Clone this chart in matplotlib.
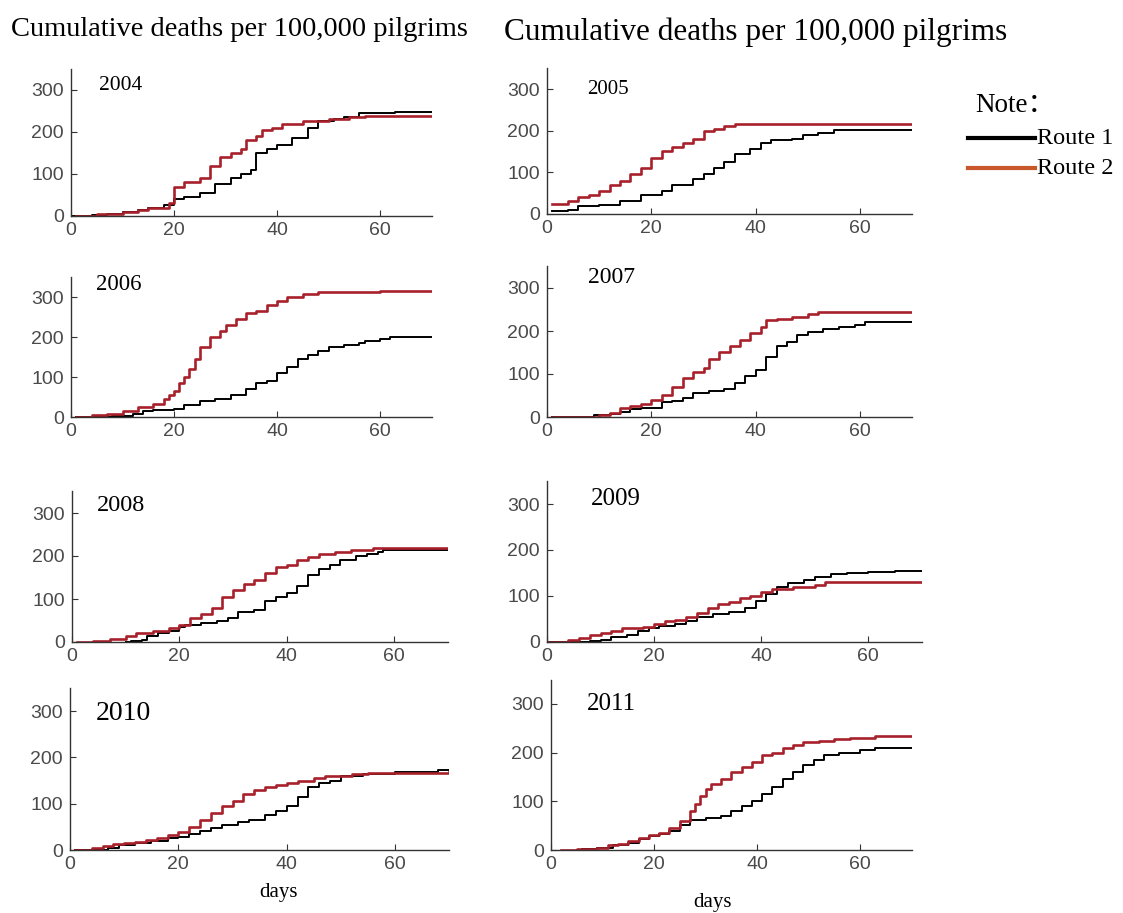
import matplotlib
matplotlib.use("Agg")
import matplotlib.pyplot as plt
from matplotlib.lines import Line2D

# (day, cumulative deaths per 100,000), step curves
route1_2004 = [(0, 0), (4, 2), (7, 5), (10, 10), (13, 15), (15, 20), (18, 27), (20, 40), (22, 45),
               (25, 55), (28, 75), (31, 90), (33, 100), (35, 110), (36, 150), (38, 160), (40, 170),
               (43, 185), (46, 210), (48, 225), (51, 230), (53, 235), (56, 245), (63, 248), (70, 248)]
route2_2004 = [(1, 0), (5, 5), (10, 10), (13, 15), (15, 20), (19, 30), (20, 70), (22, 80), (25, 90),
               (27, 120), (29, 140), (31, 150), (33, 160), (34, 180), (36, 190), (37, 205), (39, 210),
               (41, 220), (45, 225), (50, 230), (54, 235), (57, 238), (70, 238)]

route1_2005 = [(1, 8), (4, 10), (6, 18), (10, 22), (14, 30), (18, 45), (22, 55), (24, 70), (28, 85),
               (30, 95), (32, 110), (34, 125), (36, 145), (39, 155), (41, 170), (43, 178), (47, 180),
               (49, 190), (52, 195), (55, 202), (70, 202)]
route2_2005 = [(1, 25), (4, 30), (6, 40), (8, 45), (10, 55), (12, 70), (14, 80), (16, 95), (18, 110),
               (20, 135), (22, 150), (24, 160), (26, 170), (28, 180), (30, 200), (32, 205), (34, 212),
               (36, 215), (70, 215)]

route1_2006 = [(1, 0), (8, 3), (12, 8), (14, 15), (16, 18), (20, 20), (22, 30), (25, 40), (28, 45),
               (31, 55), (34, 70), (36, 85), (38, 90), (40, 110), (42, 125), (44, 145), (46, 155),
               (48, 165), (50, 175), (53, 180), (56, 185), (57, 190), (60, 195), (62, 200), (70, 200)]
route2_2006 = [(1, 0), (4, 5), (7, 8), (10, 15), (13, 25), (16, 32), (18, 45), (19, 55), (20, 65),
               (21, 85), (22, 100), (23, 120), (24, 145), (25, 175), (27, 200), (29, 215), (30, 230),
               (32, 245), (34, 260), (36, 265), (38, 280), (40, 290), (42, 300), (45, 308), (48, 312),
               (60, 315), (70, 315)]

route1_2007 = [(1, 0), (9, 5), (12, 8), (14, 12), (16, 18), (18, 20), (20, 22), (22, 35), (24, 38),
               (26, 45), (28, 55), (31, 60), (34, 65), (36, 80), (38, 95), (40, 110), (42, 140),
               (44, 165), (46, 175), (48, 190), (50, 198), (53, 205), (56, 210), (59, 215), (61, 222),
               (70, 222)]
route2_2007 = [(1, 0), (10, 5), (12, 10), (14, 20), (16, 25), (18, 30), (20, 40), (22, 50), (24, 70),
               (26, 90), (28, 105), (30, 115), (31, 135), (33, 150), (35, 165), (37, 180), (39, 195),
               (41, 210), (42, 225), (44, 228), (47, 232), (50, 240), (52, 244), (70, 244)]

route1_2008 = [(10, 0), (11, 3), (13, 5), (14, 15), (16, 20), (18, 25), (20, 35), (21, 40), (24, 45),
               (27, 50), (29, 55), (31, 70), (34, 75), (36, 95), (38, 105), (40, 115), (42, 130),
               (44, 155), (46, 170), (48, 180), (50, 190), (53, 200), (55, 205), (57, 210), (58, 213),
               (70, 213)]
route2_2008 = [(1, 0), (4, 3), (7, 8), (10, 15), (12, 20), (15, 25), (18, 32), (20, 40), (22, 55),
               (24, 65), (26, 80), (28, 105), (30, 120), (32, 135), (34, 145), (36, 160), (38, 175),
               (40, 180), (42, 190), (44, 198), (46, 205), (49, 210), (52, 215), (56, 218), (70, 218)]

route1_2009 = [(0, 0), (8, 2), (10, 5), (12, 10), (15, 15), (17, 25), (19, 30), (21, 35), (24, 40),
               (26, 45), (28, 55), (31, 60), (34, 65), (37, 75), (39, 90), (41, 105), (43, 120),
               (45, 128), (48, 135), (50, 142), (53, 148), (56, 150), (60, 152), (65, 155), (70, 155)]
route2_2009 = [(0, 0), (4, 5), (6, 8), (8, 15), (10, 20), (12, 25), (14, 30), (18, 33), (20, 40),
               (22, 45), (24, 48), (26, 55), (28, 62), (30, 75), (32, 82), (34, 88), (36, 95),
               (38, 100), (40, 108), (42, 115), (46, 120), (50, 125), (52, 130), (70, 130)]

route1_2010 = [(1, 0), (7, 5), (9, 10), (12, 15), (15, 20), (18, 25), (20, 28), (22, 35), (24, 40),
               (26, 48), (28, 55), (31, 60), (33, 65), (36, 75), (38, 85), (40, 95), (42, 115),
               (44, 135), (46, 145), (48, 150), (50, 160), (54, 165), (60, 168), (68, 172), (70, 172)]
route2_2010 = [(1, 0), (4, 5), (6, 8), (8, 12), (10, 15), (12, 18), (14, 22), (16, 25), (18, 32),
               (20, 38), (22, 50), (24, 65), (26, 80), (28, 95), (30, 105), (32, 120), (34, 130),
               (36, 135), (38, 140), (40, 145), (42, 150), (45, 155), (47, 160), (52, 165), (55, 167),
               (70, 168)]

route1_2011 = [(5, 0), (6, 3), (9, 5), (12, 10), (15, 15), (17, 22), (19, 28), (21, 32), (23, 40),
               (25, 52), (27, 62), (30, 65), (33, 70), (35, 80), (37, 90), (39, 100), (41, 115),
               (43, 130), (45, 145), (47, 160), (49, 175), (51, 185), (53, 195), (56, 200), (60, 205),
               (63, 210), (70, 210)]
route2_2011 = [(2, 0), (5, 2), (9, 5), (11, 10), (13, 12), (15, 18), (17, 25), (19, 30), (21, 35),
               (23, 45), (25, 60), (27, 80), (28, 95), (29, 110), (30, 125), (31, 135), (33, 145),
               (35, 160), (37, 170), (39, 180), (41, 195), (43, 200), (45, 210), (47, 215), (49, 222),
               (52, 225), (55, 228), (58, 230), (63, 235), (70, 235)]

years = ["2004", "2005", "2006", "2007", "2008", "2009", "2010", "2011"]
route1 = [route1_2004, route1_2005, route1_2006, route1_2007,
          route1_2008, route1_2009, route1_2010, route1_2011]
route2 = [route2_2004, route2_2005, route2_2006, route2_2007,
          route2_2008, route2_2009, route2_2010, route2_2011]

W, H = 1123, 913
# pixel anchors of each panel: x of day 0, x of day 60, y of 0, y of 300
anchors = [(71, 380, 216, 90), (547, 860, 214, 89),
           (71, 380, 417, 297), (547, 860, 417, 288),
           (72, 394, 642, 513), (547, 868, 642, 504),
           (70, 395, 850, 711), (551, 860, 850, 704)]
# year label: left x, centre y, font size
year_pos = [(99, 85, 15.5), (587, 90, 15), (96, 284, 16.5), (588, 277, 17),
            (97, 505, 17.5), (591, 499, 18), (96, 713, 20), (587, 704, 18)]

red = "#a8202a"
serif = ["Liberation Serif", "DejaVu Serif"]

fig = plt.figure(figsize=(W / 100, H / 100), dpi=100)

for i, yr in enumerate(years):
    x0, x60, y0, y300 = anchors[i]
    xpd = (x60 - x0) / 60
    ypu = (y0 - y300) / 300
    ax = fig.add_axes([x0 / W, (H - y0) / H, 70 * xpd / W, 350 * ypu / H])

    d1 = [p[0] for p in route1[i]]
    v1 = [p[1] for p in route1[i]]
    d2 = [p[0] for p in route2[i]]
    v2 = [p[1] for p in route2[i]]
    ax.plot(d1, v1, drawstyle="steps-post", color="black", lw=1.4)
    ax.plot(d2, v2, drawstyle="steps-post", color=red, lw=1.9)

    ax.set_xlim(0, 70)
    ax.set_ylim(0, 350)
    ax.set_xticks([0, 20, 40, 60])
    ax.set_yticks([0, 100, 200, 300])
    for s in ["top", "right"]:
        ax.spines[s].set_visible(False)
    for s in ["left", "bottom"]:
        ax.spines[s].set_color("#333333")
        ax.spines[s].set_linewidth(1.0)
    ax.tick_params(direction="in", length=4, color="#333333", labelcolor="#4a4a4a",
                   labelsize=14)
    ax.tick_params(axis="x", pad=4)
    ax.tick_params(axis="y", pad=5)
    for lab in ax.get_xticklabels() + ax.get_yticklabels():
        lab.set_family("Liberation Sans")

    xp, yp, fs = year_pos[i]
    fig.text(xp / W, 1 - yp / H, yr, ha="left", va="center", fontsize=fs, family=serif)

# column titles
fig.text(239 / W, 1 - 30 / H, "Cumulative deaths per 100,000 pilgrims",
         ha="center", va="center", fontsize=20.5, family=serif)
fig.text(756 / W, 1 - 32 / H, "Cumulative deaths per 100,000 pilgrims",
         ha="center", va="center", fontsize=22.5, family=serif)

# x labels
fig.text(279 / W, 1 - 892 / H, "days", ha="center", va="center", fontsize=15, family=serif)
fig.text(712 / W, 1 - 902 / H, "days", ha="center", va="center", fontsize=15, family=serif)

# hand-made note / legend
fig.text(975 / W, 1 - 105 / H, "Note：", ha="left", va="center", fontsize=19.5,
         family=["Liberation Serif", "Noto Sans CJK SC"])
fig.add_artist(Line2D([968 / W, 1035 / W], [1 - 138 / H, 1 - 138 / H], color="black", lw=3))
fig.add_artist(Line2D([968 / W, 1035 / W], [1 - 168 / H, 1 - 168 / H], color="#c8572c", lw=3))
fig.text(1037 / W, 1 - 138 / H, "Route 1", ha="left", va="center", fontsize=17.5, family=serif)
fig.text(1037 / W, 1 - 168 / H, "Route 2", ha="left", va="center", fontsize=17.5, family=serif)

fig.savefig("out.png", dpi=100)
